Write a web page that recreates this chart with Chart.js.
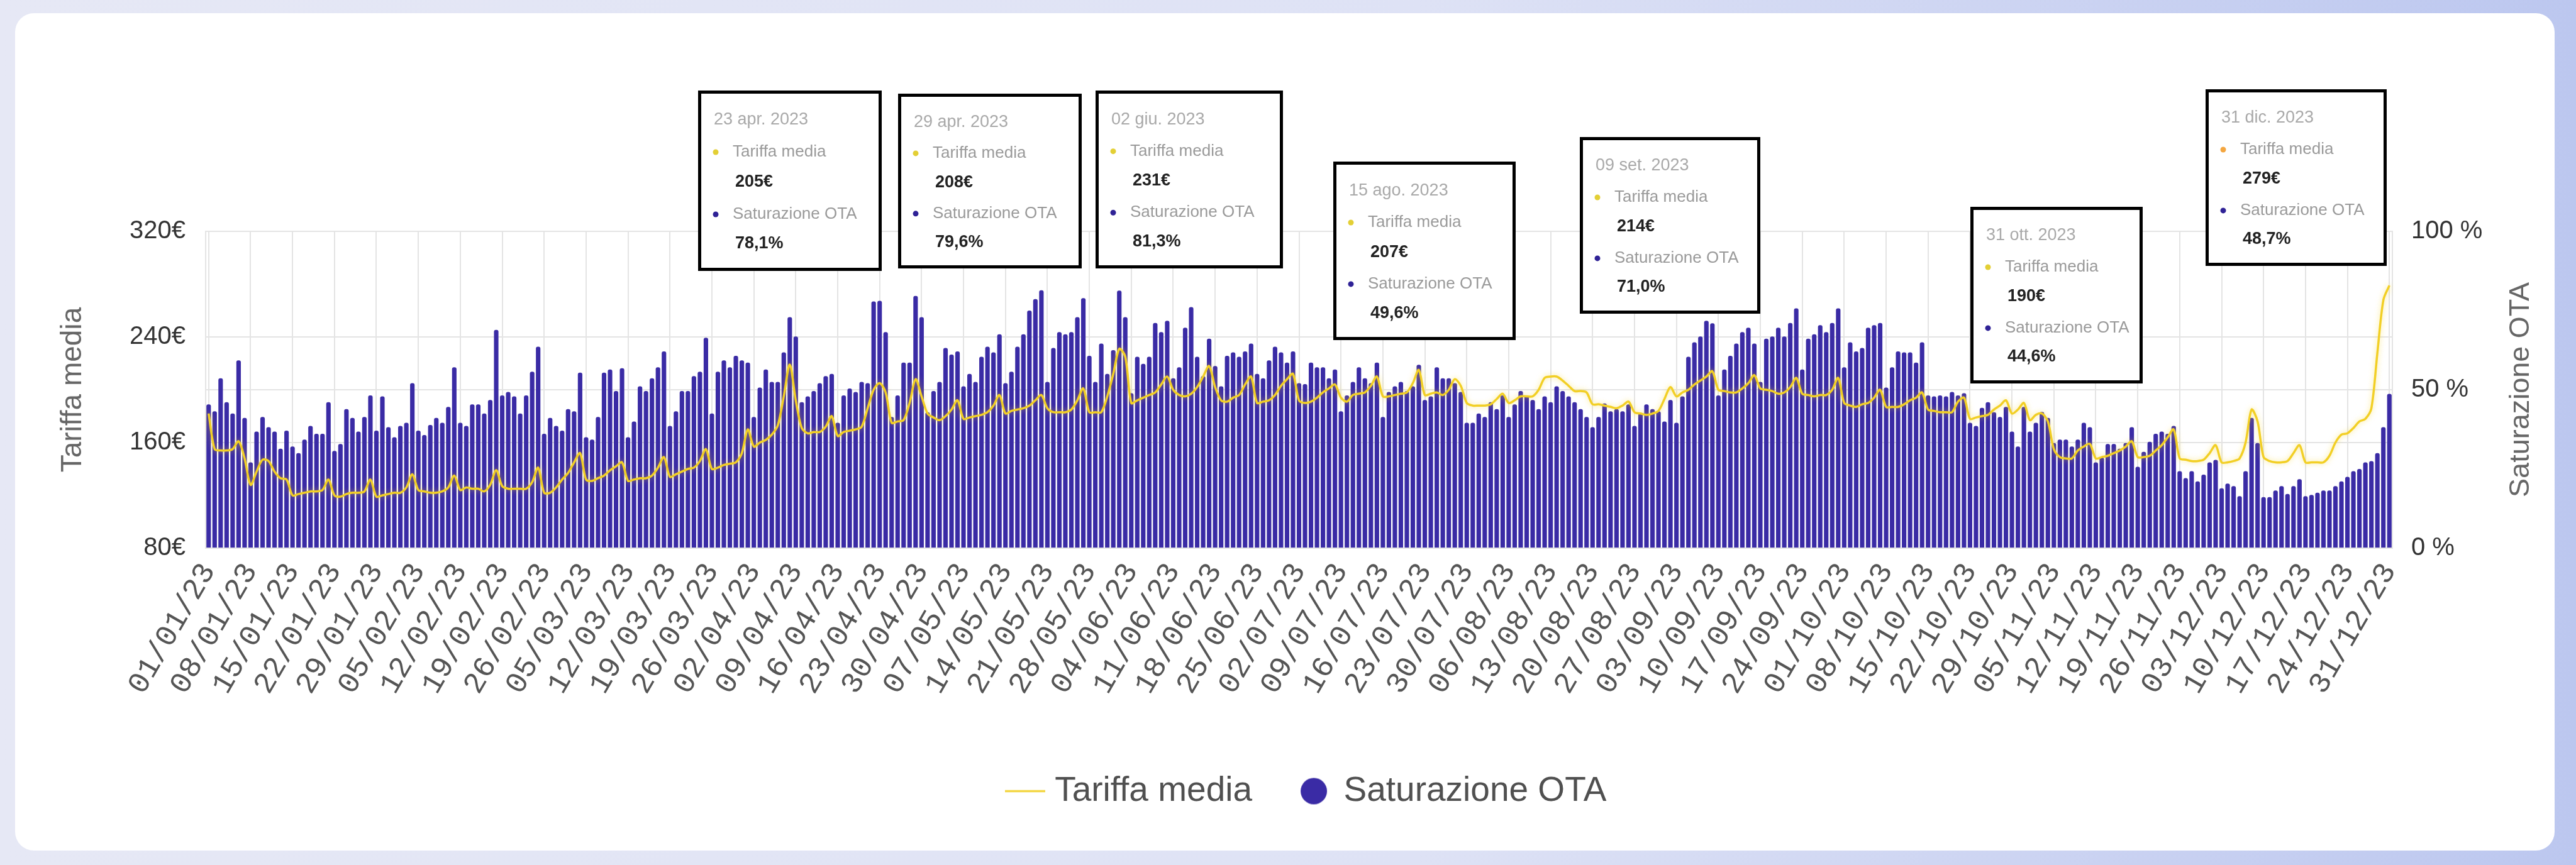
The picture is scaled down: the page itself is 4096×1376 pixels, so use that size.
<!DOCTYPE html>
<html lang="it">
<head>
<meta charset="utf-8">
<script src="https://cdn.jsdelivr.net/npm/chart.js@4.4.1/dist/chart.umd.min.js"></script>
<style>
html,body{margin:0;padding:0;width:4096px;height:1376px;overflow:hidden;}
body{position:relative;background:linear-gradient(90deg,#E6E8F5 0%,#DEE2F5 55%,#BCC7EF 100%);}
#card{position:absolute;left:24px;top:21px;width:4038px;height:1332px;background:#ffffff;border-radius:30px;}
#wrap{position:absolute;left:0;top:0;width:4096px;height:1376px;}
</style>
</head>
<body>
<div id="card"></div>
<div id="wrap"><canvas id="c" width="4096" height="1376"></canvas></div>
<script>
// ---- Tariffa media (EUR) per giorno, per mese ----
const tarGen = [182,155,154,154,155,161,148,128,138,147,146,138,133,132,120,121,122,123,123,124,132,120,119,121,122,122,123,132,119,120,121];
const tarFeb = [122,122,126,136,124,123,122,122,123,126,135,124,126,125,125,123,128,139,127,125,125,125,125,130,141,122,122,126];
const tarMar = [132,137,145,152,132,131,133,135,139,142,145,131,132,133,133,135,141,149,134,136,138,140,141,146,155,140,141,143,144,145,152];
const tarApr = [170,157,160,162,166,173,195,219,192,171,167,168,168,172,180,165,168,169,170,172,186,200,205,198,175,176,177,190,208,195];
const tarMag = [182,179,177,180,185,192,178,179,180,181,183,188,196,182,184,185,186,188,192,196,186,183,183,183,185,192,201,183,183,183,195];
const tarGiu = [212,231,225,190,192,194,196,198,204,210,200,196,195,197,202,210,218,202,192,191,194,196,204,210,190,191,192,196,203,208];
const tarLug = [212,192,190,191,194,198,201,204,194,191,196,197,198,203,210,195,195,196,197,198,205,215,196,197,198,196,200,208,203,190,188];
const tarAgo = [188,188,189,193,197,190,192,195,195,195,200,209,210,210,207,203,199,199,198,189,189,188,187,186,188,191,183,182,181,182,184];
const tarSet = [193,202,195,198,200,204,207,210,214,200,199,198,198,201,205,211,201,200,199,197,198,202,209,197,196,195,196,196,200,209];
const tarOtt = [190,188,187,189,190,194,200,187,187,187,189,192,194,198,185,184,183,183,183,191,194,178,179,180,181,185,188,192,182,185,190];
const tarNov = [177,181,182,176,155,149,148,148,154,157,159,148,149,150,152,154,157,161,149,149,150,154,158,164,170,148,147,146,146,147];
const tarDic = [152,158,145,145,146,148,160,185,176,149,146,145,145,146,152,158,145,145,145,145,150,160,166,167,171,176,178,186,228,268,279];

// ---- Saturazione OTA (%) per giorno, per mese ----
const satGen = [45.4,43.2,53.6,46.1,42.5,59.3,41.1,27.1,36.8,41.4,38.2,36.8,31.4,37.1,32.1,30.0,34.3,38.6,36.1,36.1,46.1,30.7,32.9,43.9,41.1,36.8,41.4,48.2,37.1,47.9,38.2];
const satFeb = [35.0,38.6,39.6,52.1,37.1,35.7,38.9,41.1,39.6,44.6,57.1,39.6,38.6,45.4,45.4,42.5,46.8,68.9,48.2,49.3,47.9,42.5,48.2,55.7,63.6,36.1,41.1,38.6];
const satMar = [37.1,43.9,43.2,55.4,35.0,34.3,41.4,55.4,56.4,49.6,56.8,35.0,40.0,51.1,49.6,53.6,57.1,62.1,38.6,43.2,49.6,49.6,54.3,55.7,66.4,42.5,55.7,59.3,57.1,60.7,59.3];
const satApr = [58.6,41.4,50.7,56.4,52.5,52.5,61.8,72.9,66.8,46.1,47.9,49.6,52.1,54.3,55.0,39.6,48.2,50.4,49.3,52.5,52.1,77.9,78.1,68.2,41.4,48.2,58.6,58.6,79.6,72.9];
const satMag = [42.9,49.6,52.5,63.2,61.1,62.1,51.1,55.0,52.5,60.4,63.6,61.8,67.5,52.1,55.7,63.6,67.5,75.0,78.6,81.4,52.5,63.2,68.2,67.5,68.2,72.9,78.9,60.7,52.5,64.6,55.0];
const satGiu = [62.5,81.3,72.9,48.9,60.4,58.2,60.4,71.1,68.2,71.8,53.6,57.1,69.6,76.1,60.4,54.3,66.1,57.5,51.1,60.7,61.8,60.4,62.1,64.6,55.0,53.6,59.3,63.6,61.8,58.6];
const satLug = [62.1,52.1,51.8,58.6,57.1,57.1,53.6,56.4,43.2,48.2,52.5,57.1,53.6,52.1,58.6,41.4,49.3,51.1,52.5,49.6,51.1,57.9,46.8,47.9,57.1,53.6,53.6,52.1,49.3,39.6,39.6];
const satAgo = [42.5,41.4,46.1,43.9,48.2,41.4,45.4,49.6,48.2,46.8,43.9,47.9,46.1,51.1,49.6,47.9,46.1,43.9,41.4,38.2,41.4,45.7,43.2,43.9,43.2,45.4,38.6,42.5,45.4,43.9,43.2];
const satSet = [40.0,46.8,39.6,47.9,60.4,65.0,66.8,71.8,71.0,48.2,56.4,60.7,64.6,68.2,69.6,64.6,52.5,66.1,66.8,69.6,66.8,71.1,75.7,56.4,66.1,67.5,70.4,68.2,71.1,75.7];
const satOtt = [57.1,65.0,62.1,63.2,69.6,70.4,71.1,50.7,57.1,62.1,61.8,61.8,58.6,65.0,48.2,47.9,48.2,47.9,49.3,48.2,48.9,39.6,38.6,44.3,46.1,42.9,41.4,44.6,36.8,32.1,44.6];
const satNov = [36.8,39.6,43.0,41.1,33.2,34.3,34.3,32.1,34.3,39.6,38.2,27.1,28.6,32.9,32.9,31.4,33.2,38.2,25.7,30.4,33.6,36.1,36.8,36.1,38.6,24.3,22.1,24.3,21.1,23.2];
const satDic = [27.1,27.9,18.9,20.4,19.6,16.4,24.3,41.1,33.2,16.1,16.1,18.2,19.6,17.1,19.6,21.8,16.4,16.8,17.5,18.2,18.2,19.6,21.1,22.5,24.3,25.0,27.1,27.5,30.0,38.2,48.7];

// ---- Assi ----
const tariffaTicks = [80,160,240,320];
const saturazioneTicks = [0,50,100];
const passoEtichette = 7;

// ---- Riquadri evidenziati (testo) ----
const riquadriData  = ['23 apr. 2023','29 apr. 2023','02 giu. 2023','15 ago. 2023','09 set. 2023','31 ott. 2023','31 dic. 2023'];
const riquadriTar   = ['205€','208€','231€','207€','214€','190€','279€'];
const riquadriSat   = ['78,1%','79,6%','81,3%','49,6%','71,0%','44,6%','48,7%'];

const tariffaMedia = [].concat(tarGen,tarFeb,tarMar,tarApr,tarMag,tarGiu,tarLug,tarAgo,tarSet,tarOtt,tarNov,tarDic);
const saturazioneOTA = [].concat(satGen,satFeb,satMar,satApr,satMag,satGiu,satLug,satAgo,satSet,satOtt,satNov,satDic);

const giorni = [];
for (let i = 0; i < tariffaMedia.length; i++) {
  const d = new Date(2023, 0, 1 + i);
  const p = n => String(n).padStart(2, '0');
  giorni.push(p(d.getDate()) + '/' + p(d.getMonth() + 1) + '/' + String(d.getFullYear()).slice(2));
}

// layout of the annotation boxes (px)
const boxLayout = [
  {x:1110, y:144, w:292, h:287},
  {x:1428, y:149, w:292, h:278},
  {x:1742, y:144, w:298, h:283},
  {x:2120, y:257, w:290, h:284},
  {x:2512, y:218, w:287, h:281},
  {x:3133, y:329, w:274, h:281},
  {x:3507, y:142, w:288, h:281}
];

const TEXT_FONT = '"Liberation Sans", Arial, sans-serif';
const TICK_FONT = '"Liberation Sans", Arial, sans-serif';
const MONO_FONT = '"Liberation Mono", "DejaVu Sans Mono", monospace';
const BAR_COLOR = '#3a2ba5';
const LINE_COLOR = '#f2cf25';

// legend symbols
function legendLine() {
  const c = document.createElement('canvas');
  c.width = 64; c.height = 6;
  const g = c.getContext('2d');
  g.strokeStyle = LINE_COLOR; g.lineWidth = 3;
  g.beginPath(); g.moveTo(0, 3); g.lineTo(64, 3); g.stroke();
  return c;
}
function legendDot() {
  const c = document.createElement('canvas');
  c.width = 44; c.height = 44;
  const g = c.getContext('2d');
  g.fillStyle = BAR_COLOR;
  g.beginPath(); g.arc(22, 22, 21, 0, Math.PI * 2); g.fill();
  return c;
}

const extras = {
  id: 'extras',
  beforeDatasetDraw(chart, args) {
    if (args.index === 0) {
      const ctx = chart.ctx;
      ctx.save();
      ctx.shadowColor = 'rgba(245,212,40,0.55)';
      ctx.shadowBlur = 8;
    }
  },
  afterDatasetDraw(chart, args) {
    if (args.index === 0) chart.ctx.restore();
  },
  afterDraw(chart) {
    const ctx = chart.ctx;
    const ca = chart.chartArea;
    // right axis title (reads bottom to top)
    ctx.save();
    ctx.translate(4009, (ca.top + ca.bottom) / 2);
    ctx.rotate(-Math.PI / 2);
    ctx.font = '45px ' + TEXT_FONT;
    ctx.fillStyle = '#666666';
    ctx.textAlign = 'center';
    ctx.textBaseline = 'middle';
    ctx.fillText('Saturazione OTA', 0, 0);
    ctx.restore();

    // annotation boxes
    boxLayout.forEach((b, i) => {
      ctx.save();
      ctx.fillStyle = '#ffffff';
      ctx.fillRect(b.x, b.y, b.w, b.h);
      ctx.lineWidth = 5;
      ctx.strokeStyle = '#000000';
      ctx.strokeRect(b.x + 2.5, b.y + 2.5, b.w - 5, b.h - 5);
      const s = b.h / 287;
      ctx.textBaseline = 'middle';
      ctx.textAlign = 'left';
      ctx.font = '27px ' + TEXT_FONT;
      ctx.fillStyle = '#a9a9a9';
      ctx.fillText(riquadriData[i], b.x + 25, b.y + 47 * s);
      ctx.fillStyle = i === 6 ? '#f4a640' : '#e3cf35';
      ctx.beginPath(); ctx.arc(b.x + 28, b.y + 98 * s, 4.5, 0, Math.PI * 2); ctx.fill();
      ctx.fillStyle = '#2f2296';
      ctx.beginPath(); ctx.arc(b.x + 28, b.y + 197 * s, 4.5, 0, Math.PI * 2); ctx.fill();
      ctx.font = '26px ' + TEXT_FONT;
      ctx.fillStyle = '#9a9a9a';
      ctx.fillText('Tariffa media', b.x + 55, b.y + 98 * s);
      ctx.fillText('Saturazione OTA', b.x + 55, b.y + 197 * s);
      ctx.font = 'bold 27px ' + TEXT_FONT;
      ctx.fillStyle = '#222222';
      ctx.fillText(riquadriTar[i], b.x + 59, b.y + 146 * s);
      ctx.fillText(riquadriSat[i], b.x + 59, b.y + 244 * s);
      ctx.restore();
    });
  }
};

const gridColor = '#e4e4e4';

new Chart(document.getElementById('c'), {
  data: {
    labels: giorni,
    datasets: [
      {
        type: 'line',
        label: 'Tariffa media',
        data: tariffaMedia,
        yAxisID: 'y',
        borderColor: LINE_COLOR,
        backgroundColor: LINE_COLOR,
        borderWidth: 3.5,
        pointRadius: 0,
        tension: 0.3,
        pointStyle: legendLine(),
        order: 0
      },
      {
        type: 'bar',
        label: 'Saturazione OTA',
        data: saturazioneOTA,
        yAxisID: 'y1',
        backgroundColor: BAR_COLOR,
        borderColor: BAR_COLOR,
        borderWidth: 0,
        borderRadius: 3,
        barPercentage: 0.75,
        categoryPercentage: 1.0,
        pointStyle: legendDot(),
        order: 1
      }
    ]
  },
  options: {
    responsive: false,
    animation: false,
    devicePixelRatio: 1,
    layout: { padding: { left: 68, right: 0, top: 368, bottom: 80 } },
    plugins: {
      tooltip: { enabled: false },
      legend: {
        position: 'bottom',
        labels: {
          usePointStyle: true,
          boxWidth: 40,
          boxHeight: 30,
          padding: 78,
          color: '#505050',
          font: { family: TEXT_FONT, size: 55 }
        }
      }
    },
    scales: {
      x: {
        offset: true,
        grid: { color: gridColor, lineWidth: 2, offset: false, drawTicks: false },
        border: { color: gridColor, width: 2 },
        ticks: {
          autoSkip: false,
          minRotation: 60,
          maxRotation: 60,
          padding: 14,
          color: '#555555',
          font: { family: MONO_FONT, size: 48 },
          callback: function (value, index) {
            return index % passoEtichette === 0 ? this.getLabelForValue(value) : null;
          }
        },
        afterFit: s => { s.height = 281; }
      },
      y: {
        position: 'left',
        min: tariffaTicks[0],
        max: tariffaTicks[tariffaTicks.length - 1],
        afterBuildTicks: s => { s.ticks = tariffaTicks.map(v => ({ value: v })); },
        grid: { color: gridColor, lineWidth: 2, drawTicks: false },
        border: { color: gridColor, width: 2 },
        ticks: {
          padding: 32,
          color: '#333333',
          font: { family: TICK_FONT, size: 40 },
          callback: v => v + '€'
        },
        title: {
          display: true,
          text: 'Tariffa media',
          color: '#666666',
          font: { family: TEXT_FONT, size: 46 },
          padding: { top: 21, bottom: 0 }
        },
        afterFit: s => { s.width = 259; }
      },
      y1: {
        position: 'right',
        min: saturazioneTicks[0],
        max: saturazioneTicks[saturazioneTicks.length - 1],
        afterBuildTicks: s => { s.ticks = saturazioneTicks.map(v => ({ value: v })); },
        grid: { color: gridColor, lineWidth: 2, drawTicks: false },
        border: { color: gridColor, width: 2 },
        ticks: {
          padding: 30,
          color: '#333333',
          font: { family: TICK_FONT, size: 40 },
          callback: v => v + ' %'
        },
        afterFit: s => { s.width = 292; }
      }
    }
  },
  plugins: [extras]
});
</script>
</body>
</html>
